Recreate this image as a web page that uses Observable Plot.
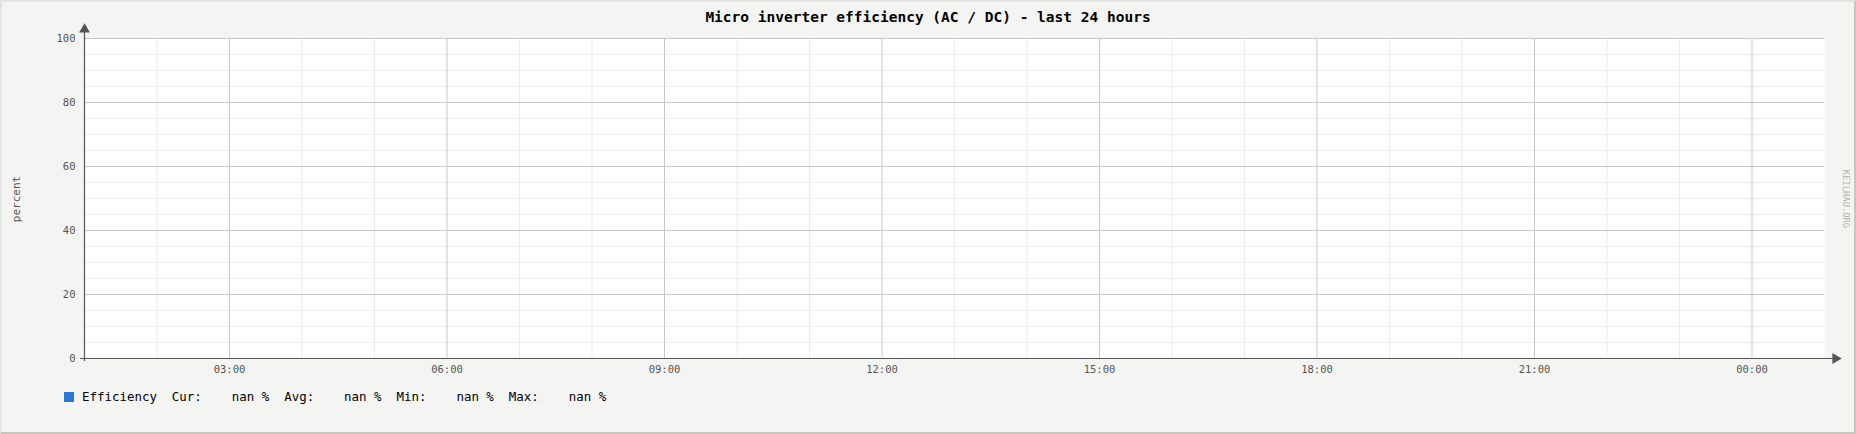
<!DOCTYPE html>
<html>
<head>
<meta charset="utf-8">
<script src="https://cdn.jsdelivr.net/npm/d3@7"></script>
<script src="https://cdn.jsdelivr.net/npm/@observablehq/plot@0.6"></script>
<style>
  html, body { margin: 0; padding: 0; background: #f4f4f2; }
  #wrap { position: relative; width: 1856px; height: 434px; background: #f4f4f2; overflow: hidden; font-family: "DejaVu Sans Mono", monospace; }
  #chart { position: absolute; left: 0; top: 0; }
  #frame { position: absolute; inset: 0; box-sizing: border-box; border-top: 2px solid #e4e4e2; border-left: 2px solid #e4e4e2; border-bottom: 2px solid #c6c6ba; border-right: 2px solid #c6c6ba; pointer-events: none; }
  .title { position: absolute; left: 0; width: 1856px; top: 9px; text-align: center; font-weight: bold; font-size: 14.5px; color: #000; white-space: pre; }
  .ylab { position: absolute; left: 16px; top: 199px; transform: translate(-50%, -50%) rotate(-90deg); font-size: 11px; color: #555; white-space: pre; }
  .wm { position: absolute; left: 1846px; top: 199px; transform: translate(-50%, -50%) rotate(90deg); font-size: 8.8px; color: #b4b4b4; white-space: pre; }
  .legend { position: absolute; left: 64px; top: 389px; font-size: 12.45px; color: #000; white-space: pre; display: flex; align-items: center; }
  .legend .sw { width: 10px; height: 10px; background: #2a77d6; margin-right: 8px; }
</style>
</head>
<body>
<div id="wrap">
  <div id="chart"></div>
  <div class="title" id="title"></div>
  <div class="ylab" id="ylab"></div>
  <div class="wm" id="wm"></div>
  <div class="legend" id="legend"><span class="sw" id="sw"></span><span id="legtext"></span></div>
  <div id="frame"></div>
</div>
<script>
// ---- data ----
const titleText = "Micro inverter efficiency (AC / DC) - last 24 hours";
const yLabel = "percent";
const watermark = "KEILHAU.ORG";
const seriesName = "Efficiency";
const seriesColor = "#2a77d6";
const unit = "%";
const statLabels = ["Cur:", "Avg:", "Min:", "Max:"];
const statValues = ["nan", "nan", "nan", "nan"];
const timeStart = new Date(Date.UTC(2024, 0, 1, 1, 0));
const timeEnd = new Date(Date.UTC(2024, 0, 2, 1, 0));
const efficiency = []; // no valid samples (all nan)
const yDomain = [0, 100];
const yMajorTicks = [0, 20, 40, 60, 80, 100];
const yMinorTicks = [5, 10, 15, 25, 30, 35, 45, 50, 55, 65, 70, 75, 85, 90, 95];
const xMajorHours = ["03:00", "06:00", "09:00", "12:00", "15:00", "18:00", "21:00", "00:00"];
const xMinorHours = ["02:00", "04:00", "05:00", "07:00", "08:00", "10:00", "11:00", "13:00", "14:00", "16:00", "17:00", "19:00", "20:00", "22:00", "23:00"];

// helpers: hour label -> Date within window
function hourToDate(lbl) {
  const h = +lbl.slice(0, 2);
  const day = h <= 1 ? 2 : 1;
  return new Date(Date.UTC(2024, 0, day, h, +lbl.slice(3, 5)));
}
const xMajor = xMajorHours.map(hourToDate);
const xMinor = xMinorHours.map(hourToDate);

const axisColor = "#555";
const majorGrid = "#c8c8c8";
const minorGrid = "#ececec";

const plot = Plot.plot({
  width: 1856,
  height: 434,
  marginLeft: 84,
  marginRight: 32,
  marginTop: 38,
  marginBottom: 76,
  style: { background: "transparent", fontFamily: "DejaVu Sans Mono, monospace", color: axisColor, overflow: "visible" },
  x: { type: "utc", domain: [timeStart, timeEnd] },
  y: { domain: yDomain },
  marks: [
    Plot.frame({ fill: "white", stroke: "none" }),
    Plot.ruleX(xMinor, { stroke: minorGrid, strokeWidth: 1 }),
    Plot.ruleY(yMinorTicks, { stroke: minorGrid, strokeWidth: 1 }),
    Plot.ruleX(xMajor, { stroke: majorGrid, strokeWidth: 1 }),
    Plot.ruleY(yMajorTicks.filter(d => d !== 0), { stroke: majorGrid, strokeWidth: 1 }),
    Plot.line(efficiency, { x: "time", y: "value", stroke: seriesColor, strokeWidth: 1 }),
    // axes lines
    Plot.ruleY([0], { stroke: axisColor, strokeWidth: 1.2, insetLeft: -4, insetRight: -10 }),
    Plot.ruleX([timeStart], { stroke: axisColor, strokeWidth: 1.2, insetTop: -8, insetBottom: -3 }),
    // arrow heads
    Plot.dot([timeStart], { x: d => d, y: () => yDomain[1], dy: -9, symbol: "triangle", r: 4, fill: axisColor, stroke: "none" }),
    Plot.dot([timeEnd], { x: d => d, y: () => yDomain[0], dx: 11, symbol: "triangle", rotate: 90, r: 4, fill: axisColor, stroke: "none" }),
    Plot.axisY({ ticks: yMajorTicks, tickSize: 0, tickPadding: 9, fontSize: 10.5, label: null, fill: axisColor }),
    Plot.axisX({ ticks: xMajor, tickSize: 0, tickPadding: 7, fontSize: 10.5, label: null, tickFormat: d3.utcFormat("%H:%M"), fill: axisColor })
  ]
});
document.getElementById("chart").appendChild(plot);

document.getElementById("title").textContent = titleText;
document.getElementById("ylab").textContent = yLabel;
document.getElementById("wm").textContent = watermark;
document.getElementById("sw").style.background = seriesColor;
let leg = seriesName;
statLabels.forEach((l, i) => {
  leg += "  " + l + statValues[i].padStart(7) + " " + unit;
});
document.getElementById("legtext").textContent = leg;
</script>
</body>
</html>
